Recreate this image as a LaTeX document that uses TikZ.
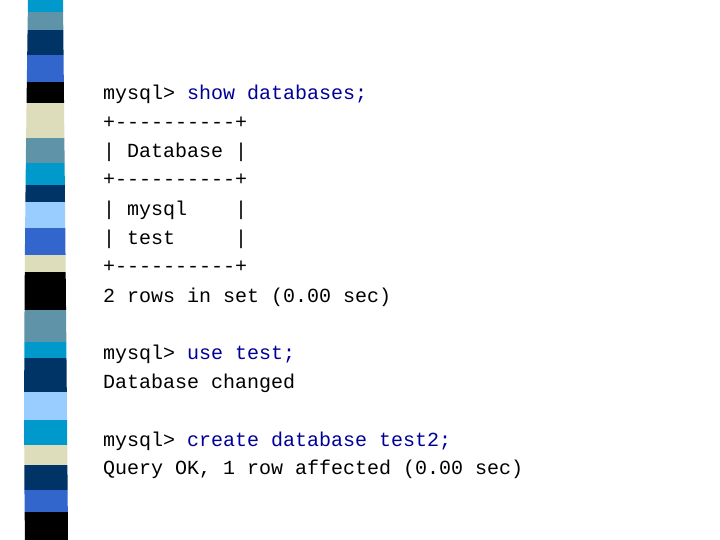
\documentclass[tikz,border=0pt]{standalone}
\usepackage{fontspec}
\setmonofont{Liberation Mono}
\usepackage{xcolor}
\definecolor{cmdblue}{HTML}{000099}
\definecolor{sCyan}{HTML}{0099CC}
\definecolor{sSteel}{HTML}{5F93A8}
\definecolor{sNavy}{HTML}{003366}
\definecolor{sRoyal}{HTML}{3366CC}
\definecolor{sBeige}{HTML}{DDDDBB}
\definecolor{sLight}{HTML}{99CCFF}
\tikzset{
  line/.style={anchor=base west, inner sep=0pt, font=\ttfamily\fontsize{20}{20}\selectfont},
  cmd/.style={text=cmdblue}}
\begin{document}
\begin{tikzpicture}[x=1pt,y=-1pt]
\useasboundingbox[fill=white] (0,0) rectangle (720,540);
%stripe
\begin{scope}
\clip (28,0) .. controls (25,200) and (23,400) .. (25,540) -- (68,540)
  .. controls (67,400) and (65,200) .. (63,0) -- cycle;
\foreach \ya/\yb/\c in {0/12/sCyan,12/30/sSteel,30/55/sNavy,55/82/sRoyal,82/103/black,
  103/138/sBeige,138/163/sSteel,163/185/sCyan,185/202/sNavy,202/228/sLight,
  228/255/sRoyal,255/272/sBeige,272/310/black,310/342/sSteel,342/358/sCyan,
  358/392/sNavy,392/420/sLight,420/445/sCyan,445/465/sBeige,465/490/sNavy,
  490/512/sRoyal,512/540/black}
  \fill[\c] (0,\ya) rectangle (100,\yb);
\end{scope}
%text
\node[line] (l1) at (103,100) {mysql> \textcolor{cmdblue}{show databases;}};
\node[line] (l2) at (103,129) {+----------+};
\node[line] (l3) at (103,158) {| Database |};
\node[line] (l4) at (103,186) {+----------+};
\node[line] (l5) at (103,215) {| mysql~~~~|};
\node[line] (l6) at (103,244) {| test~~~~~|};
\node[line] (l7) at (103,272) {+----------+};
\node[line] (l8) at (103,302) {2 rows in set (0.00 sec)};
\node[line] (l9) at (103,359) {mysql> \textcolor{cmdblue}{use test;}};
\node[line] (l10) at (103,388) {Database changed};
\node[line] (l11) at (103,446) {mysql> \textcolor{cmdblue}{create database test2;}};
\node[line] (l12) at (103,474) {Query OK, 1 row affected (0.00 sec)};
\end{tikzpicture}
\end{document}
